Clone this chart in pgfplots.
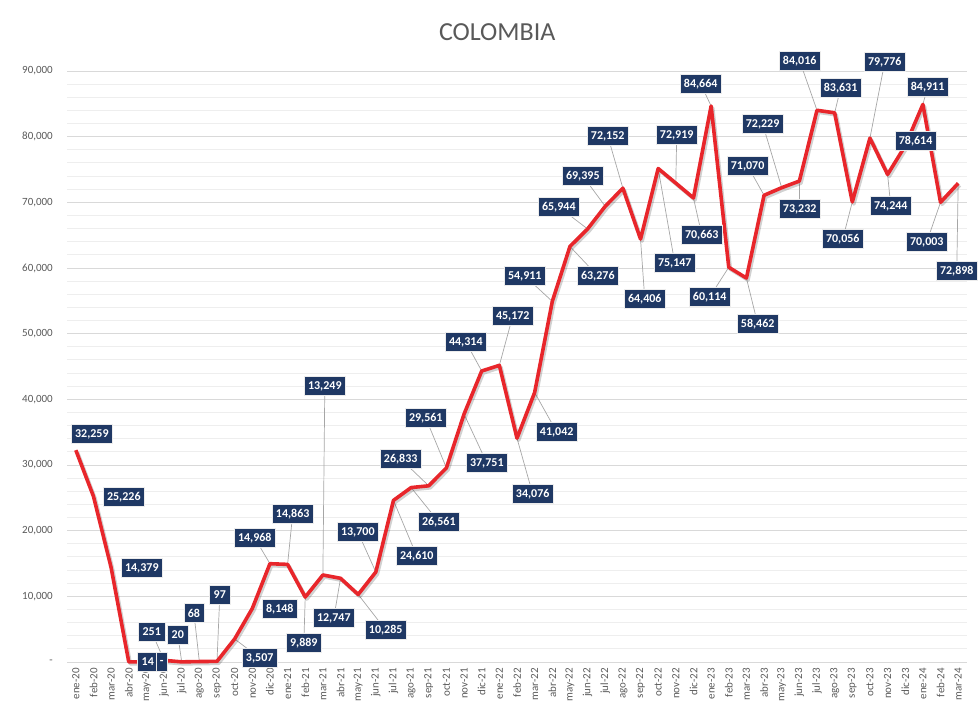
\documentclass[border=0pt]{standalone}
\usepackage{pgfplots}
\pgfplotsset{compat=1.18}
\usepackage{pgfplotstable}
\usepackage{fontspec}
\setmainfont{Carlito}
\definecolor{navy}{HTML}{1F3864}
\definecolor{redline}{HTML}{E8262B}
\definecolor{tickgray}{HTML}{595959}
\definecolor{majgrid}{HTML}{D9D9D9}
\definecolor{mingrid}{HTML}{EEEEEE}
\definecolor{leadgray}{HTML}{A6A6A6}

\pgfplotstableread{
x y lx ly du dv label
0 32259 0.91 34724 0 0 32,259
1 25226 2.72 25130 0 0 25,226
2 14379 3.74 14316 0 0 14,379
3 14 4.08 0 0 0 14
4 0 4.87 0 0 0 -
5 251 4.30 4569 -0.70 4318 251
6 20 5.78 4112 -0.22 4092 20
7 68 6.69 7463 -0.31 7395 68
8 97 8.16 10204 0.16 10107 97
9 3507 10.42 609 1.42 -2898 3,507
10 8148 11.56 8072 0 0 8,148
11 14968 10.14 18885 -0.86 3917 14,968
12 14863 12.29 22540 0.29 7677 14,863
13 9889 12.92 2894 -0.08 -6995 9,889
14 13249 14.11 42035 0.11 28786 13,249
15 12747 14.62 6701 -0.38 -6046 12,747
16 10285 17.56 4874 1.56 -5411 10,285
17 13700 15.98 19799 -1.02 6099 13,700
18 24610 19.32 16144 1.32 -8466 24,610
19 26561 20.57 21322 1.57 -5239 26,561
20 26833 18.41 30917 -1.59 4084 26,833
21 29561 19.83 37161 -1.17 7600 29,561
22 37751 23.29 30308 1.29 -7443 37,751
23 44314 22.10 48736 -0.90 4422 44,314
24 45172 24.76 52696 0.76 7524 45,172
25 34076 25.89 25586 0.89 -8490 34,076
26 41042 27.25 35029 1.25 -6013 41,042
27 54911 25.44 58788 -1.56 3877 54,911
28 63276 29.58 58788 1.58 -4488 63,276
29 65944 27.37 69297 -1.63 3353 65,944
30 69395 28.73 74018 -1.27 4623 69,395
31 72152 30.14 80110 -0.86 7958 72,152
32 64406 32.24 55285 0.24 -9121 64,406
33 75147 33.94 60768 0.94 -14379 75,147
34 72919 34.05 80262 0.05 7343 72,919
35 70663 35.47 65032 0.47 -5631 70,663
36 84664 35.41 88029 -0.59 3365 84,664
37 60114 35.92 55590 -1.08 -4524 60,114
38 58462 38.64 51477 0.64 -6985 58,462
39 71070 38.07 75541 -0.93 4471 71,070
40 72229 38.92 81937 -1.08 9708 72,229
41 73232 41.02 68992 0.02 -4240 73,232
42 84016 41.02 91532 -0.98 7516 84,016
43 83631 43.34 87420 0.34 3789 83,631
44 70056 43.46 64423 -0.54 -5633 70,056
45 79776 45.84 91380 0.84 11604 79,776
46 74244 46.18 69449 0.18 -4795 74,244
47 78614 47.59 79348 0 0 78,614
48 84911 48.27 87573 0.27 2662 84,911
49 70003 48.22 63966 -0.78 -6037 70,003
50 72898 49.92 59549 -0.08 -13349 72,898
}\data

\begin{document}
\begin{tikzpicture}
\path[use as bounding box] (0pt,0pt) rectangle (980pt,714pt);
\begin{axis}[
  at={(67pt,52pt)}, anchor=south west,
  scale only axis, width=900pt, height=591pt,
  xmin=-0.5, xmax=50.5, ymin=0, ymax=90000,
  clip=false,
  axis line style={draw=none},
  major tick length=0pt, minor tick length=0pt,
  ytick={0,10000,20000,30000,40000,50000,60000,70000,80000,90000},
  yticklabels={{-},{10,000},{20,000},{30,000},{40,000},{50,000},{60,000},{70,000},{80,000},{90,000}},
  minor y tick num=4,
  ymajorgrids, yminorgrids,
  major grid style={draw=majgrid, line width=0.9pt},
  minor grid style={draw=mingrid, line width=0.9pt},
  yticklabel style={anchor=east, inner sep=0pt, xshift=-14pt, font=\fontsize{11}{13}\selectfont, text=tickgray},
  xtick={0,...,50},
  xticklabels={ene-20,feb-20,mar-20,abr-20,may-20,jun-20,jul-20,ago-20,sep-20,oct-20,nov-20,dic-20,
    ene-21,feb-21,mar-21,abr-21,may-21,jun-21,jul-21,ago-21,sep-21,oct-21,nov-21,dic-21,
    ene-22,feb-22,mar-22,abr-22,may-22,jun-22,jul-22,ago-22,sep-22,oct-22,nov-22,dic-22,
    ene-23,feb-23,mar-23,abr-23,may-23,jun-23,jul-23,ago-23,sep-23,oct-23,nov-23,dic-23,
    ene-24,feb-24,mar-24},
  xticklabel style={rotate=90, anchor=east, inner sep=0pt, xshift=-6pt, font=\fontsize{11}{13}\selectfont, text=tickgray},
  scaled y ticks=false,
  title={COLOMBIA},
  title style={at={(0.478,1)}, anchor=center, yshift=33pt, font=\fontsize{26}{30}\selectfont, text=tickgray},
]
% leader lines
\addplot[draw=leadgray, line width=0.7pt, -, quiver={u=\thisrow{du}, v=\thisrow{dv}}] table[x=x, y=y] {\data};
% main line
\addplot[draw=redline, line width=3.6pt, line join=round, mark=none,
  preaction={draw=black, draw opacity=0.18, line width=3.6pt, transform canvas={xshift=1.6pt, yshift=-2pt}}]
  table[x=x, y=y] {\data};
% data labels
\addplot[draw=none, mark=none, nodes near coords, point meta=explicit symbolic,
  every node near coord/.append style={anchor=center, fill=navy, draw=white!85!gray, line width=0.5pt,
    text=white, font=\bfseries\fontsize{12}{14}\selectfont, inner xsep=4pt, inner ysep=0pt,
    minimum height=19pt}]
  table[x=lx, y=ly, meta=label] {\data};
\end{axis}
\end{tikzpicture}
\end{document}
